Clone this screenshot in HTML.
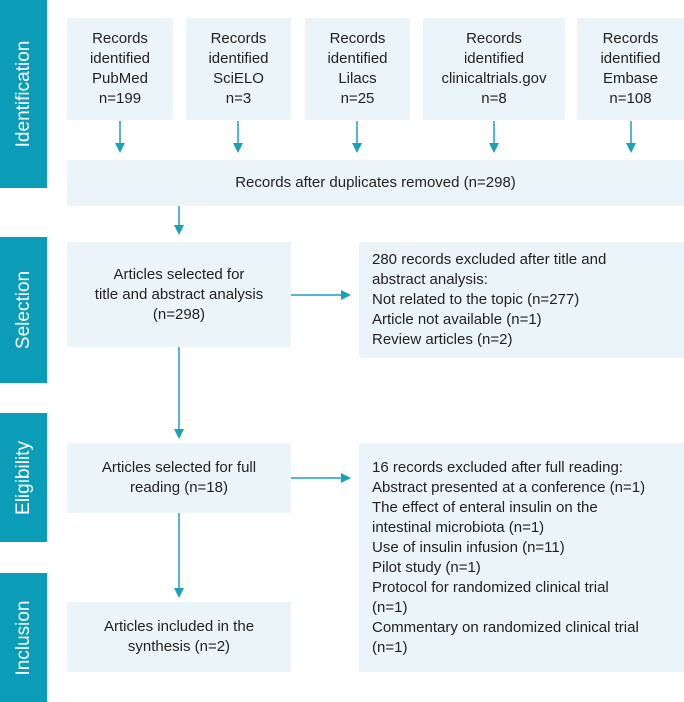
<!DOCTYPE html>
<html><head><meta charset="utf-8"><style>
body{margin:0;width:684px;height:702px;position:relative;background:#fff;font-family:"Liberation Sans",sans-serif;color:#222;overflow:hidden}
.bar{position:absolute;left:0;width:47px;background:#0b9db7}
.bar span{position:absolute;left:50%;top:50%;transform:translate(-50%,-50%) rotate(-90deg);color:#fff;font-size:19px;white-space:nowrap}
.b{position:absolute;background:#ebf4f8;display:flex;align-items:center;justify-content:center;text-align:center;font-size:15px;line-height:20px}
.l{justify-content:flex-start;text-align:left;padding-left:13px;box-sizing:border-box}
</style></head><body>
<div class="bar" style="top:0;height:188px"><span>Identification</span></div>
<div class="bar" style="top:237px;height:146px"><span>Selection</span></div>
<div class="bar" style="top:413px;height:129px"><span>Eligibility</span></div>
<div class="bar" style="top:573px;height:129px"><span>Inclusion</span></div>

<div class="b" style="left:67px;top:18px;width:106px;height:102px">Records<br>identified<br>PubMed<br>n=199</div>
<div class="b" style="left:186px;top:18px;width:105px;height:102px">Records<br>identified<br>SciELO<br>n=3</div>
<div class="b" style="left:305px;top:18px;width:105px;height:102px">Records<br>identified<br>Lilacs<br>n=25</div>
<div class="b" style="left:423px;top:18px;width:142px;height:102px">Records<br>identified<br>clinicaltrials.gov<br>n=8</div>
<div class="b" style="left:577px;top:18px;width:107px;height:102px">Records<br>identified<br>Embase<br>n=108</div>

<div class="b" style="left:67px;top:160px;width:617px;height:46px">Records after duplicates removed (n=298)</div>

<div class="b" style="left:67px;top:242px;width:224px;height:105px">Articles selected for<br>title and abstract analysis<br>(n=298)</div>
<div class="b l" style="left:359px;top:242px;width:325px;height:116px">280 records excluded after title and<br>abstract analysis:<br>Not related to the topic (n=277)<br>Article not available (n=1)<br>Review articles (n=2)</div>

<div class="b" style="left:67px;top:443px;width:224px;height:70px">Articles selected for full<br>reading (n=18)</div>
<div class="b l" style="left:359px;top:443px;width:325px;height:229px">16 records excluded after full reading:<br>Abstract presented at a conference (n=1)<br>The effect of enteral insulin on the<br>intestinal microbiota (n=1)<br>Use of insulin infusion (n=11)<br>Pilot study (n=1)<br>Protocol for randomized clinical trial<br>(n=1)<br>Commentary on randomized clinical trial<br>(n=1)</div>

<div class="b" style="left:67px;top:602px;width:224px;height:70px">Articles included in the<br>synthesis (n=2)</div>

<svg width="684" height="702" style="position:absolute;left:0;top:0" fill="#1aa0b8" stroke="#1aa0b8" stroke-width="1.5">
<g>
<line x1="120" y1="121" x2="120" y2="145"/><polygon points="115,143 125,143 120,153" stroke="none"/>
<line x1="238" y1="121" x2="238" y2="145"/><polygon points="233,143 243,143 238,153" stroke="none"/>
<line x1="357" y1="121" x2="357" y2="145"/><polygon points="352,143 362,143 357,153" stroke="none"/>
<line x1="494" y1="121" x2="494" y2="145"/><polygon points="489,143 499,143 494,153" stroke="none"/>
<line x1="631" y1="121" x2="631" y2="145"/><polygon points="626,143 636,143 631,153" stroke="none"/>
<line x1="179" y1="206" x2="179" y2="227"/><polygon points="174,225 184,225 179,235" stroke="none"/>
<line x1="179" y1="347" x2="179" y2="431"/><polygon points="174,429 184,429 179,439" stroke="none"/>
<line x1="179" y1="513" x2="179" y2="590"/><polygon points="174,588 184,588 179,598" stroke="none"/>
<line x1="291" y1="295" x2="343" y2="295"/><polygon points="341,290 341,300 351,295" stroke="none"/>
<line x1="291" y1="478" x2="343" y2="478"/><polygon points="341,473 341,483 351,478" stroke="none"/>
</g></svg>
</body></html>
